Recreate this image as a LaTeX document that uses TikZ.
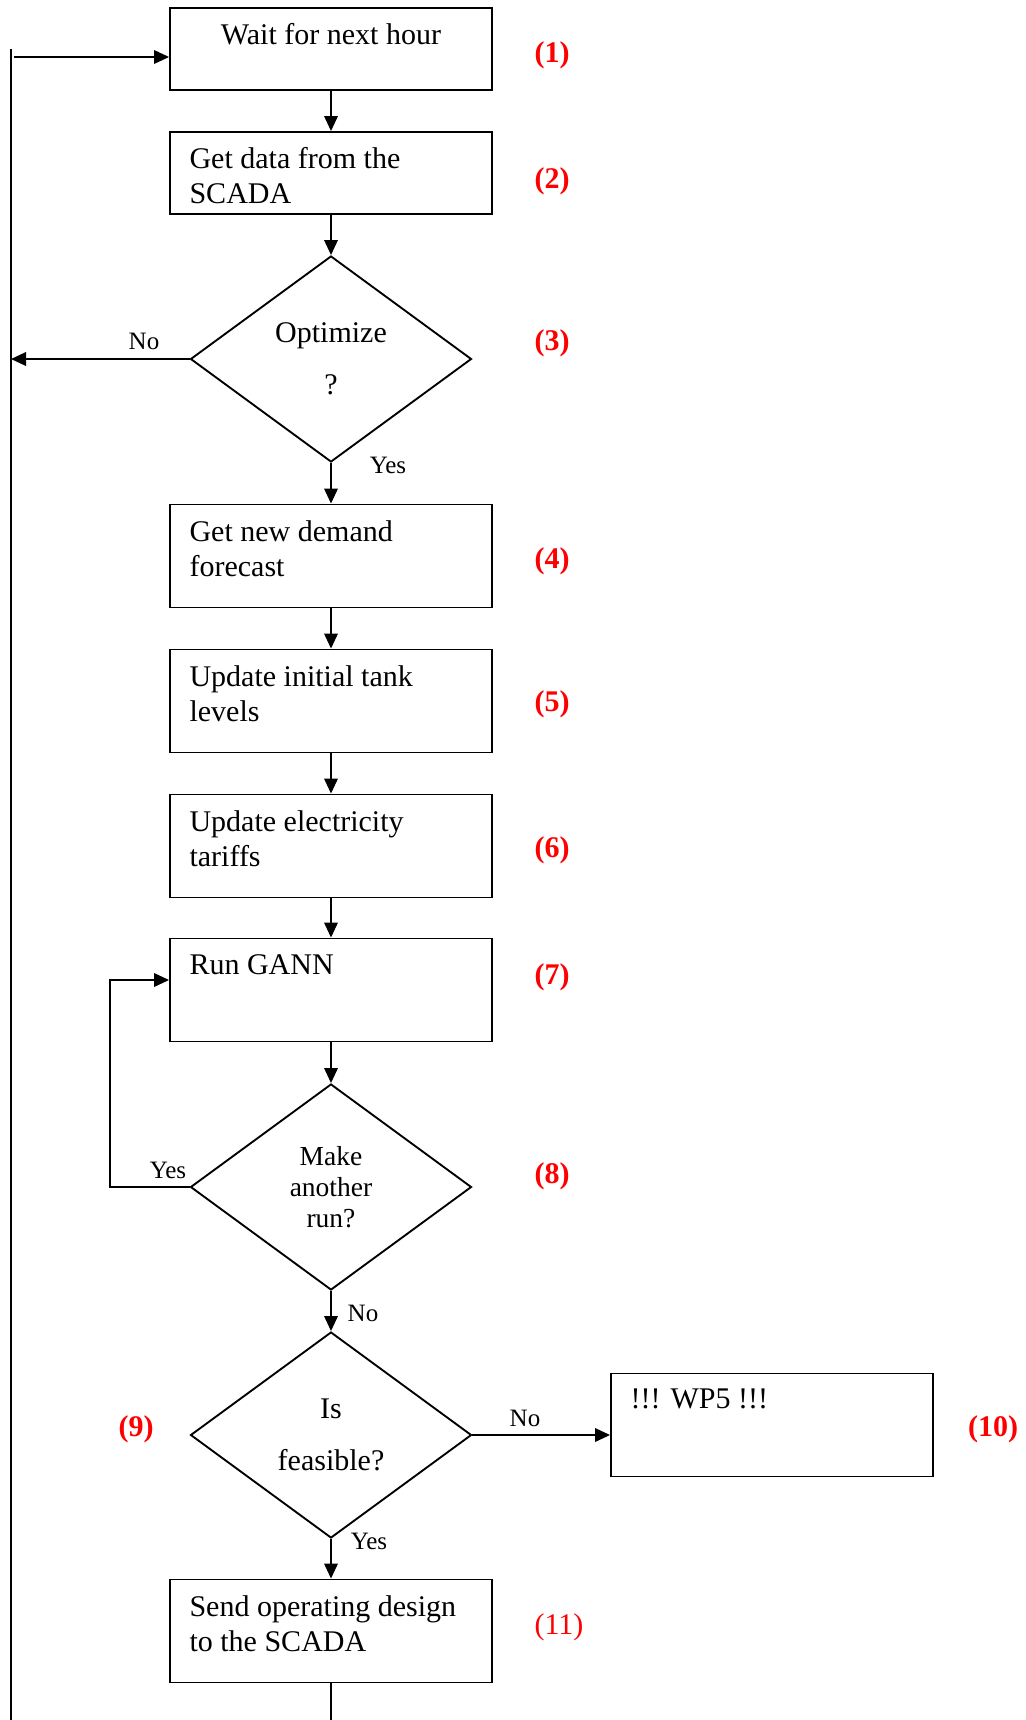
\documentclass[tikz,border=0pt]{standalone}
\usepackage{fontspec}
\setmainfont{Liberation Serif}
\usetikzlibrary{shapes.geometric,arrows.meta}

\tikzset{
  stepbox/.style={draw, line width=0.75pt, minimum width=128.8pt, minimum height=41.2pt, inner sep=0pt},
  shortbox/.style={stepbox, minimum height=32.8pt},
  decide/.style={draw, diamond, line width=0.75pt, minimum width=112.4pt, minimum height=82.4pt,
    inner sep=0pt, align=center, font=\fontsize{12}{14}\selectfont},
  boxtxt/.style={inner sep=0pt, align=left, anchor=north west, font=\fontsize{12}{14}\selectfont},
  answer/.style={inner sep=0pt, font=\fontsize{10}{12}\selectfont},
  stepnum/.style={inner sep=0pt, text=red, font=\fontsize{12}{14}\selectfont\bfseries},
  arr/.style={-{Triangle[length=6pt,width=5.4pt]}, line width=0.75pt},
  plain/.style={line width=0.75pt}
}

\begin{document}
\begin{tikzpicture}[x=0.4pt,y=-0.4pt]
\useasboundingbox (0,0) rectangle (1026,1720);

% positions
\def\xc{331}
\def\xl{11}

% steps
\node[shortbox] (wait)   at (\xc,49)   {};
\node[shortbox] (data)   at (\xc,173)  {};
\node[decide]   (opt)    at (\xc,359)  {Optimize\\[7pt]?};
\node[stepbox]  (demand) at (\xc,556)  {};
\node[stepbox]  (tank)   at (\xc,701)  {};
\node[stepbox]  (tariff) at (\xc,846)  {};
\node[stepbox]  (gann)   at (\xc,990)  {};
\node[decide, font=\fontsize{11}{12.5}\selectfont] (again) at (\xc,1187) {Make\\another\\run?};
\node[decide]   (feas)   at (\xc,1435) {Is\\[7pt]feasible?};
\node[stepbox]  (wp)     at (772,1425) {};
\node[stepbox]  (send)   at (\xc,1631) {};

% texts in the boxes
\node[boxtxt, anchor=north] (waitT) at ([yshift=-6.5pt]wait.north) {Wait for next hour};
\node[boxtxt] (dataT)   at ([shift={(8pt,-6.5pt)}]data.north west)   {Get data from the\\SCADA};
\node[boxtxt] (demandT) at ([shift={(8pt,-6.5pt)}]demand.north west) {Get new demand\\forecast};
\node[boxtxt] (tankT)   at ([shift={(8pt,-6.5pt)}]tank.north west)   {Update initial tank\\levels};
\node[boxtxt] (tariffT) at ([shift={(8pt,-6.5pt)}]tariff.north west) {Update electricity\\tariffs};
\node[boxtxt] (gannT)   at ([shift={(8pt,-6.5pt)}]gann.north west)   {Run GANN};
\node[boxtxt] (wpT)     at ([shift={(8pt,-6.5pt)}]wp.north west)     {!!! WP5 !!!};
\node[boxtxt] (sendT)   at ([shift={(8pt,-6.5pt)}]send.north west)   {Send operating design\\to the SCADA};

% step numbers
\foreach \n/\y in {1/55,2/181,3/343,4/561,5/704,6/850,7/977,8/1176}
  \node[stepnum] (n\n) at (552,\y) {(\n)};
\node[stepnum] (n9)  at (136,1429) {(9)};
\node[stepnum] (n10) at (993,1429) {(10)};
\node[stepnum, font=\fontsize{12}{14}\selectfont] (n11) at (559,1627) {(11)};

% answers
\node[answer] (optNo)    at (144,341)  {No};
\node[answer] (optYes)   at (388,465)  {Yes};
\node[answer] (againYes) at (168,1170) {Yes};
\node[answer] (againNo)  at (363,1313) {No};
\node[answer] (feasNo)   at (525,1418) {No};
\node[answer] (feasYes)  at (369,1541) {Yes};

% return line
\coordinate (top)   at (\xl,49);
\coordinate (bot)   at (\xl,1720);
\coordinate (entry) at (14,57);
\coordinate (back)  at (110,980);
\draw[plain] (bot) -- (top);
\draw[arr] (entry) -- (entry -| wait.west);

% main chain
\foreach \a/\b in {wait/data,data/opt,opt/demand,demand/tank,tank/tariff,tariff/gann,gann/again,again/feas,feas/send}
  \draw[arr] (\a) -- (\b);

% branches
\draw[arr] (opt.west) -- (opt.west -| top);
\draw[arr] (again.west) -| (back) -- (back -| gann.west);
\draw[arr] (feas.east) -- (feas.east -| wp.west);
\draw[plain] (send.south) -- (send.south |- bot);

\end{tikzpicture}
\end{document}
